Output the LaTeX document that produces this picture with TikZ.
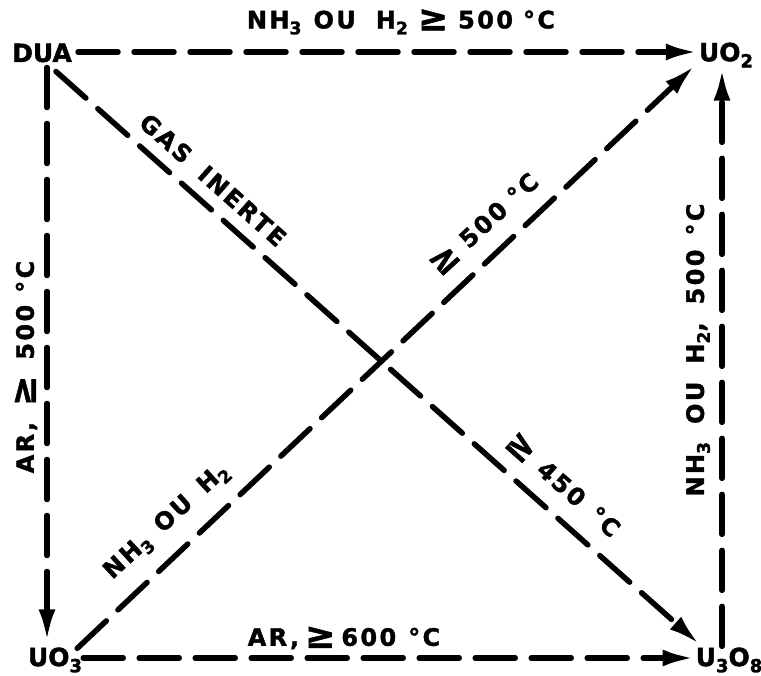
\documentclass[tikz,border=0pt]{standalone}
\usepackage{fontspec}
\setmainfont{DejaVu Sans}
\newfontfamily\lab{DejaVu Sans Bold}[FakeBold=1.5, LetterSpace=10]
\newfontfamily\chemfont{DejaVu Sans Bold}[FakeBold=1.8]
\usetikzlibrary{arrows.meta,calc}
\newcommand\lowsub[1]{\raisebox{-0.45ex}{\scalebox{0.72}{#1}}}
\newcommand\bigge{\raisebox{-0.15ex}{\scalebox{1.5}{≥}}}
\tikzset{
  chem/.style={font=\chemfont\fontsize{25}{25}\selectfont, inner sep=1pt},
  lbl/.style={font=\lab\fontsize{24}{24}\selectfont, inner sep=0pt},
  arr/.style={line width=5.5pt, line cap=round, dash pattern=on 40pt off 16pt,
    -{Latex[length=32pt,width=17pt]}},
}
\begin{document}
\begin{tikzpicture}[x=1pt,y=-1pt]
\useasboundingbox (0,0) rectangle (761,676);
\node[chem] (DUA) at (42,53) {DUA};
\node[chem] (UO2) at (726,55) {UO\lowsub{2}};
\node[chem] (UO3) at (55,660) {UO\lowsub{3}};
\node[chem] (U3O8) at (729,660) {U\lowsub{3}O\lowsub{8}};
% connectors
\draw[arr, shorten <=5pt] ([yshift=1pt]DUA.east) -- ([yshift=1pt]DUA.east -| UO2.west);
\draw[arr, shorten <=4pt, shorten >=5pt] ([xshift=5pt]DUA.south) -- ([xshift=5pt]DUA.south |- UO3.north);
\draw[arr] ([yshift=2pt]UO3.east) -- ([yshift=2pt]UO3.east -| U3O8.west);
\draw[arr] ([xshift=-4pt]U3O8.north -| UO2.south) -- ([xshift=-4pt]UO2.south);
\draw[arr] ([shift={(14pt,-8pt)}]DUA.south) -- ([shift={(5pt,2pt)}]U3O8.north west);
\draw[arr] ([shift={(-6pt,-2pt)}]UO3.north east) -- ([shift={(-3pt,3pt)}]UO2.south west);
% labels
\node[lbl] (t1) at (401,22) {NH\lowsub{3}\hspace{12pt}OU\hspace{20pt}H\lowsub{2}\hspace{10pt}\bigge\hspace{10pt}500\hspace{10pt}°C};
\node[lbl] (t2) at (344,638) {AR,\hspace{6pt}\bigge\hspace{6pt}600\hspace{12pt}°C};
\node[lbl, rotate=90] (t3) at (26,367) {AR,\hspace{16pt}\bigge\hspace{16pt}500\hspace{12pt}°C};
\node[lbl, rotate=90] (t4) at (698,350) {NH\lowsub{3}\hspace{18pt}OU\hspace{18pt}H\lowsub{2},\hspace{18pt}500\hspace{14pt}°C};
\node[lbl, rotate=-41.5] (t5) at (213,180) {GAS\hspace{18pt}INERTE};
\node[lbl, rotate=-41.5] (t6) at (563,485) {\bigge\hspace{12pt}450\hspace{14pt}°C};
\node[lbl, rotate=42.5] (t7) at (484,224) {\bigge\hspace{10pt}500\hspace{10pt}°C};
\node[lbl, rotate=42.5] (t8) at (167,522) {NH\lowsub{3}\hspace{14pt}OU\hspace{16pt}H\lowsub{2}};
\end{tikzpicture}
\end{document}
